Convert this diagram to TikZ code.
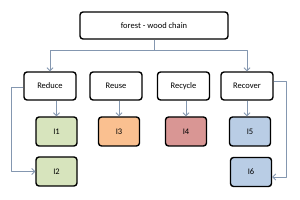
\documentclass[tikz,border=0pt]{standalone}
\usepackage{fontspec}
\setmainfont{Carlito}
\usetikzlibrary{arrows.meta}
\definecolor{linkgray}{HTML}{8497B0}
\definecolor{greenfill}{HTML}{D7E4BD}
\definecolor{orangefill}{HTML}{FAC090}
\definecolor{redfill}{HTML}{D99694}
\definecolor{bluefill}{HTML}{B9CDE5}
\begin{document}
\begin{tikzpicture}[x=1pt,y=-1pt,line join=round,
  box/.style={draw,line width=1.4pt,rounded corners=3pt,inner sep=0pt,
    minimum height=28pt,font=\fontsize{8.5}{10}\selectfont},
  cat/.style={box,minimum width=52pt},
  item/.style={box,minimum width=41pt,minimum height=29pt},
  link/.style={draw=linkgray,line width=0.8pt,-{Straight Barb[length=3pt,width=6pt]}}]
  \useasboundingbox (0,0) rectangle (300,200);
  % head and the four strategies
  \node[box,minimum width=148pt,minimum height=27pt] (chain) at (154,25.5) {forest - wood chain};
  \node[cat] (reduce) at (50,86) {Reduce};
  \node[cat] (reuse) at (116,86) {Reuse};
  \node[cat] (recycle) at (183.5,86) {Recycle};
  \node[cat] (recover) at (247,86) {Recover};
  % indicators
  \node[item,fill=greenfill] (i1) at (56.5,131.5) {I1};
  \node[item,fill=greenfill] (i2) at (56.5,171.5) {I2};
  \node[item,fill=orangefill] (i3) at (119,131.5) {I3};
  \node[item,fill=redfill] (i4) at (186,131.5) {I4};
  \node[item,fill=bluefill] (i5) at (250,131.5) {I5};
  \node[item,fill=bluefill] (i6) at (251,172) {I6};
  % connectors
  \coordinate (split) at (154,50);
  \draw[linkgray,line width=0.8pt] (chain.south) -- (split);
  \draw[link] (split) -| (reduce.north);
  \draw[link] (split) -| (recover.north);
  \draw[link] (i1.north |- reduce.south) -- (i1.north);
  \draw[link] (i3.north |- reuse.south) -- (i3.north);
  \draw[link] (i4.north |- recycle.south) -- (i4.north);
  \draw[link] (recover.south) -- (recover.south |- i5.north);
  \draw[link] ([yshift=-1pt]reduce.west) -- ++(-12,0) |- (i2.west);
  \draw[link] ([yshift=5pt]recover.east) -- ++(13,0) |- ([yshift=-5pt]i6.east);
\end{tikzpicture}
\end{document}
